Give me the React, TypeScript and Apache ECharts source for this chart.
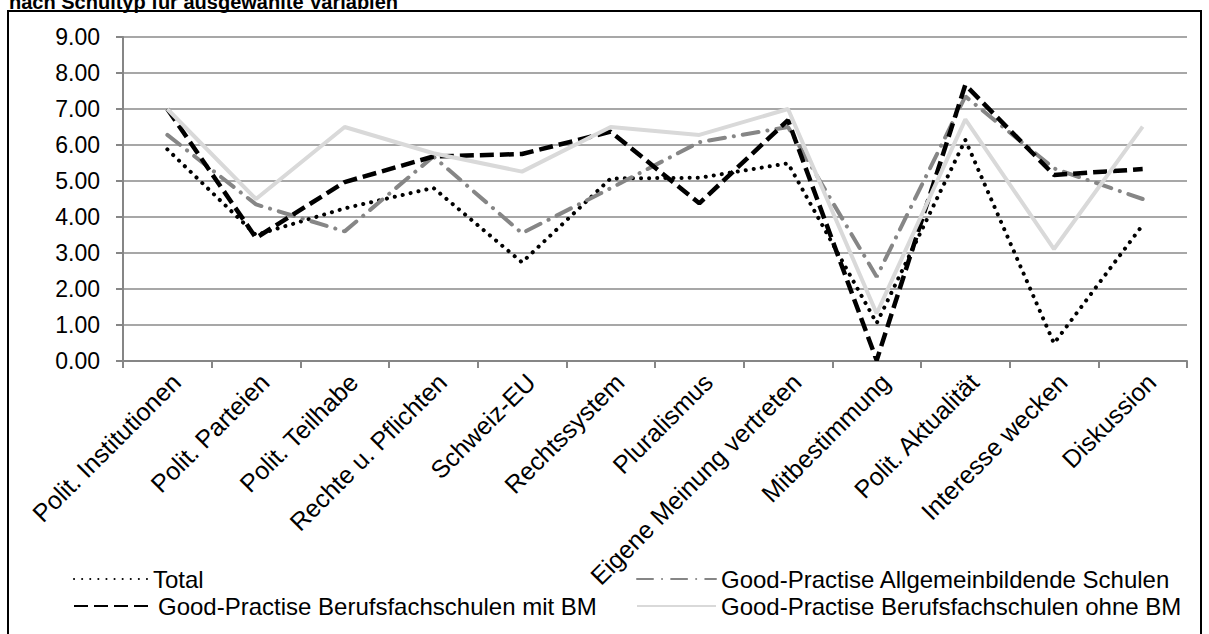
import React, { useEffect, useRef } from "react";
import * as echarts from "echarts";

const categories = [
  "Polit. Institutionen",
  "Polit. Parteien",
  "Polit. Teilhabe",
  "Rechte u. Pflichten",
  "Schweiz-EU",
  "Rechtssystem",
  "Pluralismus",
  "Eigene Meinung vertreten",
  "Mitbestimmung",
  "Polit. Aktualität",
  "Interesse wecken",
  "Diskussion",
];

const seriesNames = [
  "Total",
  "Good-Practise Allgemeinbildende Schulen",
  "Good-Practise Berufsfachschulen mit BM",
  "Good-Practise Berufsfachschulen ohne BM",
];

const total = [5.88, 3.5, 4.24, 4.81, 2.74, 5.07, 5.09, 5.49, 1.05, 6.14, 0.49, 3.78];
const allgemein = [6.28, 4.35, 3.6, 5.68, 3.55, 4.8, 6.08, 6.5, 2.34, 7.35, 5.35, 4.5];
const bmMit = [7.0, 3.42, 4.97, 5.68, 5.75, 6.37, 4.38, 6.69, 0.02, 7.67, 5.17, 5.33];
const ohneBm = [7.0, 4.5, 6.5, 5.77, 5.26, 6.5, 6.28, 7.0, 1.32, 6.71, 3.11, 6.51];

const yTicks = [0, 1, 2, 3, 4, 5, 6, 7, 8, 9];

const titleText = "nach Schultyp für ausgewählte Variablen";

const FONT = "'Liberation Sans', Arial, sans-serif";

export default function App() {
  const ref = useRef<HTMLDivElement>(null);

  useEffect(() => {
    if (!ref.current) return;
    const chart = echarts.init(ref.current, null, { renderer: "svg" });
    const axisGray = "#868686";

    const legendBase = {
      orient: "horizontal" as const,
      itemHeight: 14,
      padding: 0,
      textStyle: { fontSize: 24, color: "#000", fontFamily: FONT },
      itemStyle: { opacity: 0 },
      itemGap: 0,
      selectedMode: false,
    };

    chart.setOption({
      animation: false,
      backgroundColor: "#fff",
      textStyle: { fontFamily: FONT },
      graphic: [
        {
          type: "rect",
          shape: { x: 8, y: 11, width: 1193, height: 640 },
          style: { fill: "none", stroke: "#000", lineWidth: 2 },
          z: 0,
        },
        {
          type: "text",
          x: 9,
          y: 2,
          style: {
            text: titleText,
            font: `bold 20px ${FONT}`,
            fill: "#000",
            verticalAlign: "middle",
          },
        },
      ],
      legend: [
        { ...legendBase, data: [seriesNames[0]], left: 73, top: 567, itemWidth: 74 },
        { ...legendBase, data: [seriesNames[1]], left: 636, top: 567, itemWidth: 79 },
        { ...legendBase, data: [seriesNames[2]], left: 73, top: 594, itemWidth: 79 },
        { ...legendBase, data: [seriesNames[3]], left: 636, top: 594, itemWidth: 79 },
      ],
      grid: { left: 123, right: 22, top: 37, bottom: 273, containLabel: false },
      xAxis: {
        type: "category",
        data: categories,
        boundaryGap: true,
        axisLine: { show: true, lineStyle: { color: axisGray, width: 2 } },
        axisTick: { show: true, length: 7, lineStyle: { color: axisGray, width: 2 } },
        axisLabel: {
          rotate: 45,
          interval: 0,
          fontSize: 25,
          color: "#000",
          margin: 8,
          verticalAlign: "top",
          fontFamily: FONT,
        },
      },
      yAxis: {
        type: "value",
        min: 0,
        max: 9,
        interval: 1,
        axisLine: { show: true, lineStyle: { color: axisGray, width: 2 } },
        axisTick: { show: true, length: 7, lineStyle: { color: axisGray, width: 2 } },
        splitLine: { show: true, lineStyle: { color: "#8a8a8a", width: 1.6 } },
        axisLabel: {
          fontSize: 23,
          color: "#000",
          margin: 23,
          fontFamily: FONT,
          formatter: (v: number) => (yTicks.includes(v) ? v.toFixed(2) : ""),
        },
      },
      series: [
        {
          name: seriesNames[0],
          type: "line",
          data: total,
          symbol: "none",
          color: "#000",
          lineStyle: { color: "#000", width: 4, type: [0.1, 8], cap: "round" },
          z: 3,
        },
        {
          name: seriesNames[1],
          type: "line",
          data: allgemein,
          symbol: "none",
          color: "#868686",
          lineStyle: { color: "#868686", width: 4, type: [16, 9, 0.1, 9], cap: "round" },
          z: 4,
        },
        {
          name: seriesNames[2],
          type: "line",
          data: bmMit,
          symbol: "none",
          color: "#000",
          lineStyle: { color: "#000", width: 4.5, type: [14, 6] },
          z: 5,
        },
        {
          name: seriesNames[3],
          type: "line",
          data: ohneBm,
          symbol: "none",
          color: "#d9d9d9",
          lineStyle: { color: "#d9d9d9", width: 4 },
          z: 6,
        },
      ],
    });

    return () => chart.dispose();
  }, []);

  return (
    <div
      ref={ref}
      style={{ position: "fixed", left: 0, top: 0, width: 1209, height: 634, background: "#fff" }}
    />
  );
}
